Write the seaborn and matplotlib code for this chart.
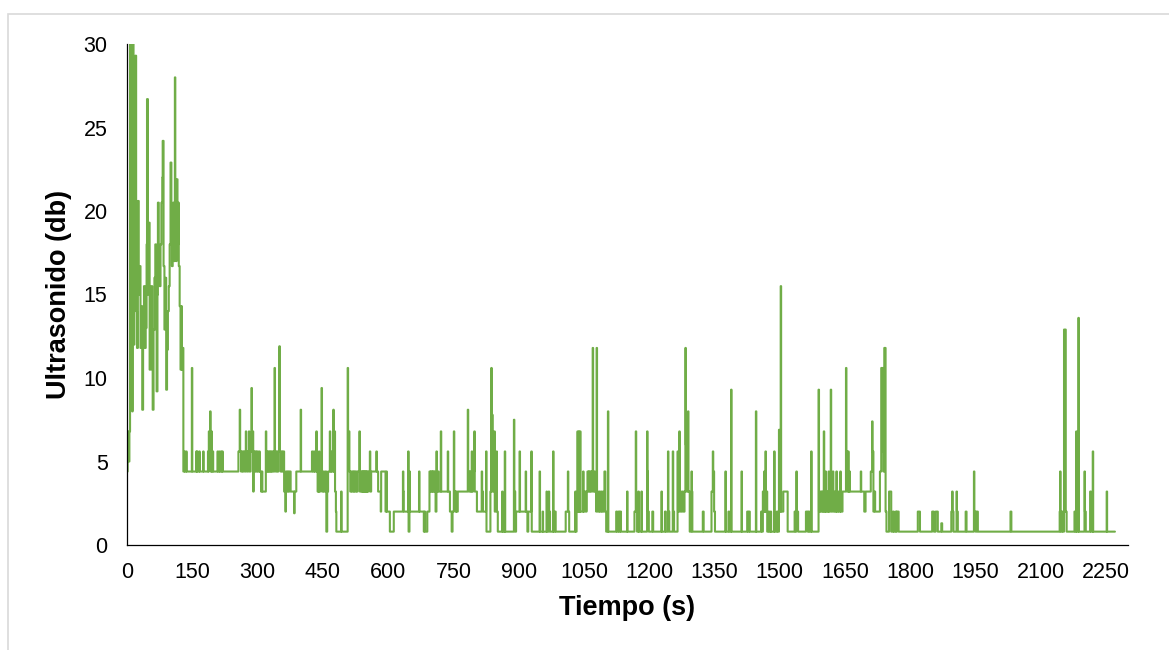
import numpy as np
import pandas as pd
import matplotlib
matplotlib.use("Agg")
import matplotlib.pyplot as plt
import seaborn as sns
from matplotlib.patches import Rectangle

# ---- data: (time s, ultrasound dB) breakpoints, value holds until next point ----
seg_start = [(0, 4.4), (1.5, 6.8), (4, 5.0), (5.5, 6.8), (7, 30), (12, 8.0), (13, 30), (15, 12),
             (17, 20.5), (19, 29.3), (21, 14), (23, 11.8), (25, 20.6), (27, 15), (29, 16.7),
             (31, 11.8), (33, 14.3), (35, 8.1), (37, 12.9), (39, 15.5), (41, 11.8), (43, 13),
             (45, 18), (46, 26.7), (48, 15), (50, 19.3), (52, 10.5), (54, 12.9), (56, 15.5),
             (58, 10.5), (59, 8.1), (61, 12.9), (63, 16), (65, 18.0), (67, 12.9), (68, 9.2),
             (70, 15), (71, 20.5), (73, 17), (75, 15.5), (77, 18), (79, 20.5), (81, 22),
             (82, 24.2), (84, 16.7), (86, 12.9), (88, 16), (90, 9.3), (92, 11.7), (94, 14),
             (96, 15.5), (98, 18), (100, 22.9), (102, 18), (103, 16.7), (105, 19), (106, 20.5),
             (108, 17), (110, 28.0), (111, 19.3), (113, 17), (114, 21.9), (116, 18.0),
             (118, 20.5), (119, 16.7), (121, 14.3), (123, 10.5), (125, 14.3), (126, 10.5),
             (128, 11.8)]

seg_150_400 = [(129.5, 4.4), (132, 5.6), (133, 4.4), (136, 5.6), (137, 4.4), (149, 10.6),
               (150, 4.4), (159, 5.6), (160, 4.4), (161, 5.6), (162, 4.4), (166, 5.6),
               (167, 4.4), (175, 5.6), (176, 4.4), (186, 5.6), (187, 4.4), (188, 6.8),
               (189, 5.6), (191, 8.0), (192, 4.4), (194, 6.8), (195, 4.4), (197, 5.6),
               (198, 4.4), (208, 5.6), (209, 4.4), (212, 5.6), (213, 4.4), (216, 5.6),
               (217, 4.4), (219, 5.6), (220, 4.4), (256, 5.6), (259, 8.1), (260, 5.6),
               (262, 4.4), (264, 5.6), (266, 4.4), (268, 5.6), (271, 4.4), (273, 6.8),
               (274, 5.6), (276, 4.4), (278, 5.6), (280, 6.8), (281, 4.4), (284, 5.6),
               (286, 9.4), (287, 5.6), (289, 6.8), (290, 3.2), (291, 5.6), (293, 4.4),
               (295, 5.6), (297, 4.4), (299, 5.6), (301, 4.4), (304, 5.6), (305, 4.4),
               (308, 3.2), (310, 4.4), (311, 3.2), (319, 6.8), (320, 4.4), (322, 5.6),
               (323, 4.4), (325, 5.6), (326, 4.4), (328, 5.6), (329, 4.4), (331, 5.6),
               (332, 4.4), (334, 5.6), (336, 4.4), (339, 10.6), (340, 5.6), (342, 4.4),
               (344, 5.6), (346, 4.4), (348, 5.6), (350, 11.9), (351, 5.6), (353, 4.4),
               (355, 5.6), (357, 4.4), (359, 5.6), (361, 3.2), (364, 2.0), (365, 4.4),
               (367, 3.2), (369, 4.4), (371, 3.2), (373, 4.4), (376, 3.2), (384, 1.9),
               (385, 3.2), (389, 4.4), (399, 8.1)]

seg_400_615 = [(400, 4.4), (425, 5.6), (427, 4.4), (430, 5.6), (431, 4.4), (435, 6.8),
               (436, 4.4), (438, 3.2), (439, 4.4), (440, 3.2), (441, 5.6), (442, 3.2),
               (444, 4.4), (447, 9.4), (448, 3.2), (450, 4.4), (452, 3.2), (455, 4.4),
               (458, 0.8), (460, 3.2), (462, 4.4), (466, 6.8), (467, 4.4), (469, 5.6),
               (470, 4.4), (474, 8.1), (475, 4.4), (477, 6.8), (478, 3.2), (480, 2.0),
               (481, 0.8), (492, 3.2), (493, 0.8), (507, 10.6), (508, 5.6), (510, 6.8),
               (511, 4.4), (513, 3.2), (515, 4.4), (517, 3.2), (519, 4.4), (521, 3.2),
               (522, 4.4), (524, 3.2), (526, 4.4), (528, 3.2), (530, 4.4), (534, 6.8),
               (535, 3.2), (537, 4.4), (539, 3.2), (540, 4.4), (541, 3.2), (542, 4.4),
               (543, 3.2), (544, 4.4), (545, 3.2), (546, 4.4), (547, 3.2), (548, 4.4),
               (549, 3.2), (550, 4.4), (551, 3.2), (552, 4.4), (553, 3.2), (555, 4.4),
               (558, 5.6), (559, 3.2), (561, 4.4), (573, 5.6), (574, 4.4), (577, 3.2),
               (583, 2.0), (584, 4.4), (594, 2.0), (596, 4.4), (597, 2.0), (604, 0.8)]

seg_615_1015 = [(613, 2.0), (634, 4.4), (635, 3.2), (636, 2.0), (646, 5.6), (647, 0.8),
                (649, 4.4), (650, 2.0), (671, 4.4), (672, 2.0), (682, 0.8), (683, 2.0),
                (685, 0.8), (690, 2.0), (695, 4.4), (697, 3.2), (698, 4.4), (700, 3.2),
                (701, 4.4), (702, 3.2), (703, 4.4), (705, 3.2), (706, 4.4), (707, 3.2),
                (709, 2.0), (711, 5.6), (712, 3.2), (714, 4.4), (716, 3.2), (721, 6.8),
                (722, 3.2), (737, 5.6), (738, 3.2), (742, 2.0), (746, 0.8), (748, 2.0),
                (751, 6.8), (752, 3.2), (755, 2.0), (756, 3.2), (757, 2.0), (760, 3.2),
                (783, 8.1), (784, 4.4), (786, 3.2), (788, 4.4), (790, 3.2), (792, 5.6),
                (793, 3.2), (795, 4.4), (798, 6.8), (799, 3.2), (804, 2.0), (815, 4.4),
                (816, 3.2), (818, 2.0), (825, 5.6), (826, 0.8), (835, 3.2), (837, 10.6),
                (838, 3.2), (839, 7.8), (840, 4.4), (842, 3.2), (844, 6.8), (845, 2.0),
                (847, 3.2), (849, 5.6), (850, 2.0), (852, 0.8), (862, 3.2), (863, 0.8),
                (865, 2.0), (867, 0.8), (868, 5.6), (869, 0.8), (889, 7.5), (890, 3.2),
                (892, 0.8), (894, 2.0), (902, 5.6), (903, 2.0), (916, 4.4), (917, 2.0),
                (920, 0.8), (922, 2.0), (929, 5.6), (930, 0.8), (948, 4.4), (949, 0.8),
                (955, 2.0), (956, 0.8), (964, 3.2), (965, 0.8), (969, 3.2), (970, 2.0),
                (972, 0.8), (979, 5.6), (980, 0.8), (983, 2.0), (985, 0.8), (1008, 2.0),
                (1013, 4.4), (1014, 2.0)]

seg_1015_1410 = [(1016, 0.8), (1030, 3.2), (1031, 0.8), (1033, 2.0), (1035, 6.8), (1036, 2.0),
                 (1038, 6.8), (1039, 2.0), (1041, 6.8), (1042, 2.0), (1048, 4.4), (1049, 2.0),
                 (1052, 3.2), (1055, 2.0), (1056, 3.2), (1058, 4.4), (1060, 3.2), (1061, 4.4),
                 (1063, 3.2), (1064, 4.4), (1066, 3.2), (1068, 4.4), (1070, 11.8), (1071, 3.2),
                 (1073, 4.4), (1075, 3.2), (1078, 2.0), (1079, 11.8), (1080, 3.2), (1082, 2.0),
                 (1085, 3.2), (1087, 2.0), (1090, 3.2), (1092, 2.0), (1096, 3.2), (1097, 4.4),
                 (1099, 2.0), (1101, 0.8), (1105, 8.0), (1106, 0.8), (1124, 2.0), (1126, 0.8),
                 (1129, 2.0), (1131, 0.8), (1133, 2.0), (1135, 0.8), (1149, 3.2), (1150, 0.8),
                 (1166, 2.0), (1169, 6.8), (1170, 2.0), (1172, 0.8), (1175, 3.2), (1176, 0.8),
                 (1182, 3.2), (1183, 0.8), (1195, 6.8), (1196, 4.4), (1197, 2.0), (1199, 0.8),
                 (1207, 2.0), (1209, 0.8), (1228, 3.2), (1229, 0.8), (1236, 2.0), (1238, 0.8),
                 (1243, 5.6), (1244, 2.0), (1246, 0.8), (1254, 5.6), (1255, 2.0), (1257, 0.8),
                 (1265, 5.6), (1266, 2.0), (1269, 6.8), (1270, 3.2), (1272, 2.0), (1275, 3.2),
                 (1278, 2.0), (1281, 3.2), (1283, 11.8), (1284, 6.0), (1286, 3.2), (1289, 8.0),
                 (1290, 3.2), (1293, 0.8), (1297, 4.4), (1298, 3.2), (1299, 0.8), (1323, 2.0),
                 (1325, 0.8), (1343, 3.2), (1346, 5.6), (1347, 4.4), (1349, 2.0), (1351, 0.8),
                 (1375, 4.4), (1376, 0.8), (1382, 2.0), (1384, 0.8), (1388, 9.3), (1389, 0.8)]

seg_1410_1775 = [(1412, 4.4), (1413, 0.8), (1425, 2.0), (1427, 0.8), (1429, 2.0), (1431, 0.8),
                 (1445, 8.0), (1446, 0.8), (1457, 2.0), (1459, 0.8), (1461, 3.2), (1462, 2.0),
                 (1464, 4.4), (1465, 2.0), (1467, 5.6), (1468, 2.0), (1470, 3.2), (1471, 0.8),
                 (1474, 2.0), (1476, 0.8), (1479, 2.0), (1480, 0.8), (1487, 5.6), (1488, 0.8),
                 (1493, 2.0), (1495, 0.8), (1498, 6.9), (1499, 2.0), (1502, 15.5), (1503, 2.0),
                 (1508, 3.2), (1518, 0.8), (1534, 2.0), (1536, 0.8), (1538, 4.4), (1539, 2.0),
                 (1542, 0.8), (1560, 2.0), (1564, 0.8), (1566, 2.0), (1568, 0.8), (1572, 5.6),
                 (1573, 0.8), (1589, 9.3), (1590, 2.0), (1593, 3.2), (1595, 2.0), (1597, 3.2),
                 (1599, 2.0), (1601, 6.8), (1602, 2.0), (1605, 4.4), (1606, 2.0), (1608, 3.2),
                 (1610, 2.0), (1612, 4.4), (1613, 2.0), (1615, 3.2), (1617, 9.3), (1618, 2.0),
                 (1620, 3.2), (1622, 4.4), (1623, 2.0), (1626, 3.2), (1628, 2.0), (1630, 4.4),
                 (1631, 2.0), (1634, 3.2), (1636, 2.0), (1639, 4.4), (1640, 2.0), (1644, 3.2),
                 (1652, 10.6), (1653, 5.6), (1655, 3.2), (1657, 5.6), (1658, 3.2), (1660, 4.4),
                 (1661, 3.2), (1686, 4.4), (1687, 3.2), (1694, 2.0), (1697, 3.2), (1709, 4.4),
                 (1712, 7.4), (1713, 5.6), (1715, 2.0), (1717, 3.2), (1719, 2.0), (1730, 4.4),
                 (1733, 10.6), (1735, 5.6), (1736, 10.6), (1738, 4.4), (1740, 11.8),
                 (1743, 2.0), (1745, 0.8), (1751, 3.2), (1756, 0.8), (1760, 2.0), (1762, 0.8),
                 (1766, 2.0), (1768, 0.8), (1769, 2.0)]

seg_end = [(1773, 0.8), (1817, 2.0), (1822, 0.8), (1850, 2.0), (1854, 0.8), (1858, 2.0),
           (1863, 0.8), (1871, 1.3), (1873, 0.8), (1894, 2.0), (1896, 3.2), (1897, 2.0),
           (1899, 0.8), (1906, 3.2), (1907, 2.0), (1909, 0.8), (1927, 2.0), (1929, 0.8),
           (1946, 4.4), (1947, 2.0), (1950, 0.8), (1952, 2.0), (1955, 0.8), (2030, 2.0),
           (2032, 0.8), (2143, 2.0), (2144, 4.4), (2145, 0.8), (2148, 2.0), (2150, 0.8),
           (2153, 12.9), (2157, 2.0), (2159, 0.8), (2177, 2.0), (2179, 0.8), (2181, 6.8),
           (2182, 0.8), (2186, 13.6), (2187, 0.8), (2200, 4.4), (2201, 2.0), (2203, 0.8),
           (2213, 3.2), (2215, 0.8), (2219, 5.6), (2220, 0.8), (2251, 3.2), (2252, 0.8),
           (2270, 0.8)]

x_ticks = list(range(0, 2251, 150))
y_ticks = [0, 5, 10, 15, 20, 25, 30]
x_title = "Tiempo (s)"
y_title = "Ultrasonido (db)"

segments = [seg_start, seg_150_400, seg_400_615, seg_615_1015, seg_1015_1410,
            seg_1410_1775, seg_end]
pts = [p for s in segments for p in s]
df = pd.DataFrame(pts, columns=["t", "db"]).sort_values("t", kind="stable")
df = df.drop_duplicates("t", keep="last")

# ---- style ----
sns.set_theme(style="white")
plt.rcParams["font.family"] = ["Liberation Sans", "DejaVu Sans"]

fig = plt.figure(figsize=(11.69, 6.5), dpi=100)
ax = fig.add_axes([127 / 1169, 105 / 650, 1001 / 1169, 501 / 650])

sns.lineplot(data=df, x="t", y="db", ax=ax, color="#70AD47", linewidth=1.5,
             drawstyle="steps-post", estimator=None, sort=False)

ax.set_xlim(0, 2300)
ax.set_ylim(0, 30)
ax.set_xticks(x_ticks)
ax.set_yticks(y_ticks)
ax.tick_params(axis="both", length=0, labelsize=15.5, colors="#000000")
ax.tick_params(axis="x", pad=12)
ax.tick_params(axis="y", pad=14)

for side in ["top", "right"]:
    ax.spines[side].set_visible(False)
for side in ["left", "bottom"]:
    ax.spines[side].set_color("#000000")
    ax.spines[side].set_linewidth(0.9)

ax.set_xlabel(x_title, fontsize=19.5, fontweight="bold", color="#000000")
ax.set_ylabel(y_title, fontsize=19.5, fontweight="bold", color="#000000")
ax.xaxis.set_label_coords(0.5, -0.10)
ax.yaxis.set_label_coords(-0.055, 0.5)

# light chart border (left and top edges visible)
fig.add_artist(Rectangle((7.5 / 1169, -0.1), 1.2, 0.1 + (1 - 13.5 / 650),
                         transform=fig.transFigure, fill=False,
                         edgecolor="#D9D9D9", linewidth=1.2))

fig.savefig("out.png", dpi=100)
